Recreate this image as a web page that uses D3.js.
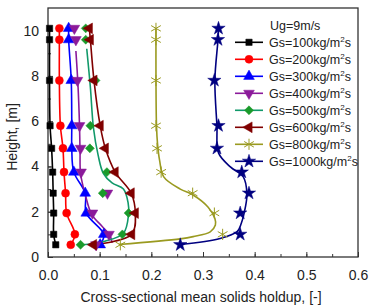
<!DOCTYPE html>
<html>
<head>
<meta charset="utf-8">
<style>
  body { margin: 0; background: #fff; }
  svg { display: block; font-family: "Liberation Sans", Arial, sans-serif; }
  .tick text { font-size: 14px; fill: #222; }
  .axis-label { font-size: 14px; fill: #222; }
  .legend text { font-size: 12.5px; fill: #222; }
</style>
</head>
<body>
<svg width="370" height="306"></svg>
<script src="https://d3js.org/d3.v7.min.js"></script>
<script>
// measuring heights (m), shared by every series
const heights = [10.1, 9.6, 7.8, 5.8, 4.8, 3.75, 2.82, 1.94, 1.0, 0.54];

// solids holdup at each height, one array per Gs
const gs100  = [0.003, 0.003, 0.003, 0.004, 0.007, 0.009, 0.010, 0.011, 0.011, 0.015];
const gs200  = [0.022, 0.022, 0.022, 0.024, 0.029, 0.031, 0.034, 0.036, 0.052, 0.044];
const gs300  = [0.040, 0.040, 0.045, 0.046, 0.046, 0.050, 0.072, 0.074, 0.108, 0.101];
const gs400  = [0.051, 0.054, 0.057, 0.061, 0.063, 0.064, 0.115, 0.086, 0.118, 0.093];
const gs500  = [0.073, 0.073, 0.092, 0.082, 0.081, 0.114, 0.106, 0.156, 0.144, 0.063];
const gs600  = [0.080, 0.082, 0.089, 0.101, 0.111, 0.130, 0.161, 0.169, 0.162, 0.088];
const gs800  = [0.209, 0.209, 0.209, 0.209, 0.211, 0.219, 0.280, 0.322, 0.338, 0.140];
const gs1000 = [0.330, 0.329, 0.322, 0.330, 0.327, 0.375, 0.389, 0.372, 0.372, 0.256];

// smoothed fit curves [holdup, height] that do not go through the markers
const fit400 = [[0.054, 9.1], [0.058, 7.6], [0.061, 5.8], [0.062, 4.6], [0.063, 3.7], [0.073, 2.67],
                [0.085, 1.86], [0.105, 1.35], [0.120, 0.94], [0.124, 0.62]];
const fit500 = [[0.075, 9.2], [0.082, 7.5], [0.088, 5.7], [0.097, 4.5], [0.107, 3.7], [0.124, 3.27],
                [0.146, 3.0], [0.155, 2.4], [0.156, 1.9], [0.146, 1.05], [0.11, 0.7], [0.062, 0.53]];
const fit800 = [[0.209, 10.1], [0.209, 7.8], [0.210, 5.8], [0.212, 5.0], [0.216, 4.27], [0.224, 3.54],
                [0.256, 3.0], [0.280, 2.75], [0.310, 2.2], [0.323, 1.7], [0.324, 1.41], [0.314, 1.11],
                [0.281, 0.9], [0.256, 0.8], [0.137, 0.55]];
const fit1000 = [[0.330, 10.1], [0.329, 9.6], [0.323, 7.8], [0.327, 5.8], [0.330, 4.6], [0.353, 3.98],
                 [0.378, 3.54], [0.385, 2.8], [0.382, 2.2], [0.374, 1.48], [0.366, 1.12], [0.333, 0.82],
                 [0.256, 0.55]];

const labels = ["100", "200", "300", "400", "500", "600", "800", "1000"];
const markerColors = ["#000000", "#ff0000", "#0000ff", "#8b1a9a", "#1a9a2a", "#800000", "#9a9a20", "#000080"];
const lineColors   = ["#000000", "#ff0000", "#0000ff", "#8b1a9a", "#11996a", "#800000", "#9a9a20", "#000080"];
const shapes = ["square", "circle", "up", "down", "diamond", "left", "asterisk", "star"];

const xTicks = [0.0, 0.1, 0.2, 0.3, 0.4, 0.5, 0.6];
const yTicks = [0, 2, 4, 6, 8, 10];

const svg = d3.select("svg");
const margin = { top: 8, right: 12, bottom: 49, left: 48 };
const W = 370, H = 306;

const x = d3.scaleLinear().domain([0, 0.6]).range([margin.left, W - margin.right]);
const y = d3.scaleLinear().domain([0, 11]).range([H - margin.bottom, margin.top]);

// axes, ticks pointing inside
svg.append("g")
  .attr("transform", `translate(0,${H - margin.bottom})`)
  .call(d3.axisBottom(x).tickValues(d3.range(0, 0.601, 0.05)).tickSize(-3).tickFormat(""))
  .call(g => g.select(".domain").remove())
  .call(g => g.selectAll("line").attr("stroke", "#333"));
svg.append("g")
  .attr("transform", `translate(0,${H - margin.bottom})`)
  .call(d3.axisBottom(x).tickValues(xTicks).tickSize(-5).tickPadding(13).tickFormat(d3.format(".1f")))
  .call(g => g.select(".domain").remove())
  .call(g => g.selectAll("line").attr("stroke", "#333"));

svg.append("g")
  .attr("transform", `translate(${margin.left},0)`)
  .call(d3.axisLeft(y).tickValues(d3.range(0, 11, 1)).tickSize(-3).tickFormat(""))
  .call(g => g.select(".domain").remove())
  .call(g => g.selectAll("line").attr("stroke", "#333"));
svg.append("g")
  .attr("transform", `translate(${margin.left},0)`)
  .call(d3.axisLeft(y).tickValues(yTicks).tickSize(-5).tickPadding(9))
  .call(g => g.select(".domain").remove())
  .call(g => g.selectAll("line").attr("stroke", "#333"));

svg.append("rect")
  .attr("x", margin.left).attr("y", margin.top)
  .attr("width", W - margin.left - margin.right)
  .attr("height", H - margin.top - margin.bottom)
  .attr("fill", "none").attr("stroke", "#333").attr("stroke-width", 1.3);

// marker shapes
function markerPath(shape, s) {
  if (shape === "asterisk") {
    const r = s * 0.62, a = r * 0.87, b = r * 0.5;
    return `M0,${-r}L0,${r}M${-a},${-b}L${a},${b}M${-a},${b}L${a},${-b}`;
  }
  const sym = {
    square: d3.symbolSquare, circle: d3.symbolCircle, up: d3.symbolTriangle,
    down: d3.symbolTriangle, left: d3.symbolTriangle, diamond: d3.symbolSquare, star: d3.symbolStar
  }[shape];
  const size = { square: 40, circle: 50, up: 50, down: 50, left: 50, diamond: 40, star: 55 }[shape];
  return d3.symbol(sym, size)();
}
function rot(shape) {
  return shape === "down" ? 180 : shape === "left" ? -90 : shape === "diamond" ? 45 : 0;
}

const values = [gs100, gs200, gs300, gs400, gs500, gs600, gs800, gs1000];
const fits = [null, null, null, fit400, fit500, null, fit800, fit1000];

const line = d3.line()
  .x(d => x(d[0]))
  .y(d => y(d[1]))
  .curve(d3.curveCatmullRom.alpha(0.5));

values.forEach((vals, i) => {
  const pts = fits[i] || vals.map((v, k) => [v, heights[k]]);
  svg.append("path")
    .attr("d", line(pts))
    .attr("fill", "none")
    .attr("stroke", lineColors[i])
    .attr("stroke-width", 1.6);
});

values.forEach((vals, i) => {
  svg.append("g").selectAll("path")
    .data(vals)
    .join("path")
    .attr("transform", (v, k) => `translate(${x(v)},${y(heights[k])}) rotate(${rot(shapes[i])})`)
    .attr("d", markerPath(shapes[i], 9))
    .attr("fill", shapes[i] === "asterisk" ? "none" : markerColors[i])
    .attr("stroke", markerColors[i])
    .attr("stroke-width", shapes[i] === "asterisk" ? 1 : 0.5);
});

// legend
const legend = svg.append("g").attr("class", "legend");
legend.append("text").attr("x", 270).attr("y", 29.5).text("Ug=9m/s");
labels.forEach((lab, i) => {
  const ly = 42.3 + 17 * i;
  legend.append("line")
    .attr("x1", 235).attr("x2", 263).attr("y1", ly).attr("y2", ly)
    .attr("stroke", lineColors[i]).attr("stroke-width", 1.6);
  legend.append("path")
    .attr("transform", `translate(249,${ly}) rotate(${rot(shapes[i])})`)
    .attr("d", markerPath(shapes[i], 9))
    .attr("fill", shapes[i] === "asterisk" ? "none" : markerColors[i])
    .attr("stroke", markerColors[i])
    .attr("stroke-width", shapes[i] === "asterisk" ? 1 : 0.5);
  const t = legend.append("text").attr("x", 269).attr("y", ly + 4.5);
  t.append("tspan").text(`Gs=${lab}kg/m`);
  t.append("tspan").attr("dy", -5).attr("font-size", "8px").text("2");
  t.append("tspan").attr("dy", 5).text("s");
});

// axis titles
svg.append("text").attr("class", "axis-label")
  .attr("x", 201).attr("y", 302).attr("text-anchor", "middle")
  .text("Cross-sectional mean solids holdup, [-]");
svg.append("text").attr("class", "axis-label")
  .attr("transform", "translate(17,137) rotate(-90)")
  .attr("text-anchor", "middle")
  .text("Height, [m]");
</script>
</body>
</html>
